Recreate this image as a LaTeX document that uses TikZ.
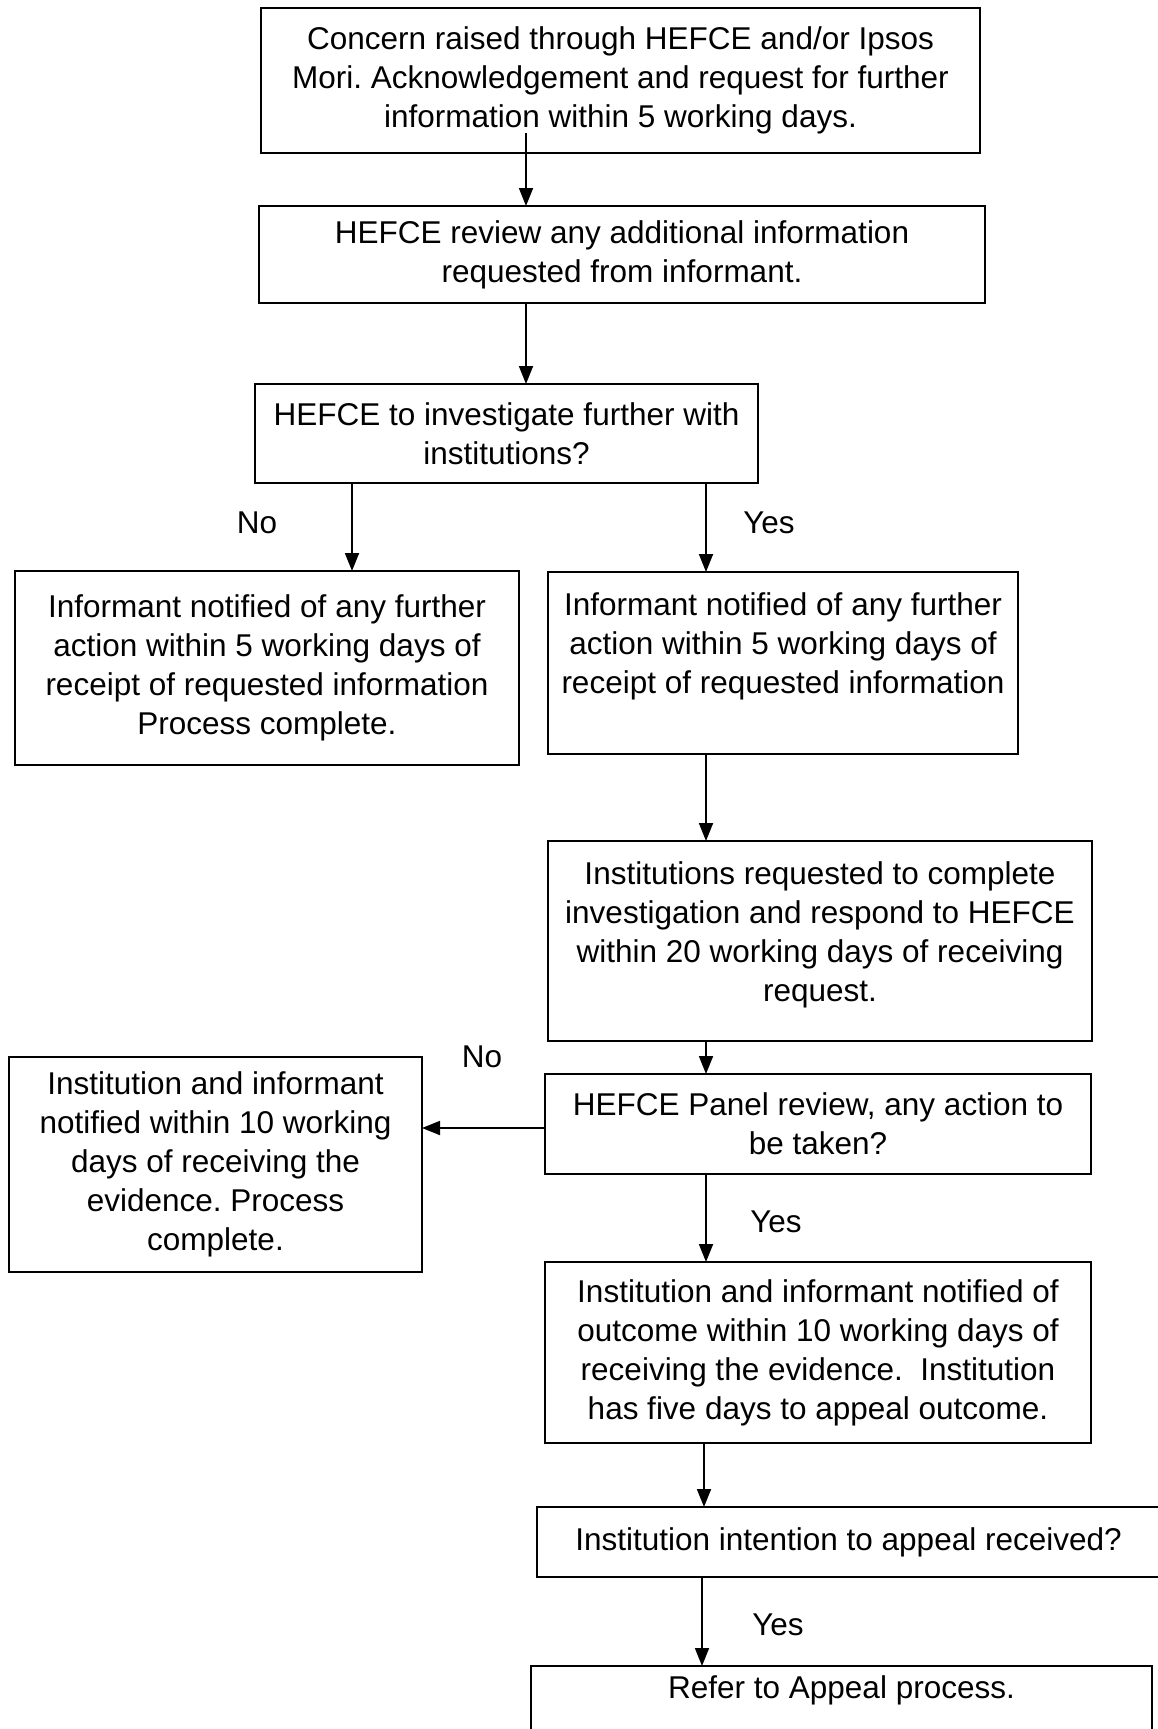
\documentclass[tikz,border=0pt]{standalone}
\usepackage{fontspec}
\setmainfont{Liberation Sans}
\usetikzlibrary{arrows.meta,calc}
\frenchspacing
\begin{document}
\begin{tikzpicture}[x=1pt,y=-1pt,
  box/.style={draw, line width=2.2pt, align=center, inner sep=0pt, outer sep=0pt,
    font=\fontsize{31.5}{39}\selectfont},
  lbl/.style={inner sep=0pt, font=\fontsize{31.5}{39}\selectfont},
  arr/.style={line width=1.8pt, -{Triangle[length=18pt,width=14pt]}}]
\useasboundingbox[fill=white] (0,0) rectangle (1157,1729);
% boxes
\node[box, minimum width=719pt, minimum height=145pt] (b1) at (620.5,80.5)
  {Concern raised through HEFCE and/or Ipsos\\Mori. Acknowledgement and request for further\\information within 5 working days.};
\node[box, minimum width=726pt, minimum height=97pt] (b2) at (622,254.5)
  {HEFCE review any additional information\\requested from informant.};
\node[box, minimum width=503pt, minimum height=99pt] (b3) at (506.5,433.5)
  {HEFCE to investigate further with\\institutions?};
\node[box, minimum width=504pt, minimum height=194pt] (b4) at (267,668)
  {Informant notified of any further\\action within 5 working days of\\receipt of requested information\\Process complete.};
\node[box, minimum width=470pt, minimum height=182pt] (b5) at (783,663)
  {Informant notified of any further\\action within 5 working days of\\receipt of requested information\\\mbox{}};
\node[box, minimum width=544pt, minimum height=200pt] (b6) at (820,941)
  {Institutions requested to complete\\investigation and respond to HEFCE\\within 20 working days of receiving\\request.\\[-20pt]\mbox{}};
\node[box, minimum width=413pt, minimum height=215pt] (b7) at (215.5,1164.5)
  {Institution and informant\\notified within 10 working\\days of receiving the\\evidence. Process\\complete.};
\node[box, minimum width=546pt, minimum height=100pt] (b8) at (818,1124)
  {HEFCE Panel review, any action to\\be taken?};
\node[box, minimum width=546pt, minimum height=181pt] (b9) at (818,1352.5)
  {Institution and informant notified of\\outcome within 10 working days of\\receiving the evidence.\ \ Institution\\has five days to appeal outcome.};
\node[box, minimum width=623pt, minimum height=70pt] (b10) at (848.5,1542)
  {Institution intention to appeal received?};
\node[box, minimum width=621pt, minimum height=94pt] (b11) at (841.5,1713)
  {Refer to Appeal process.\\[12pt]\mbox{}};
% helper coordinates
\coordinate (p1) at (526,133);
\coordinate (x526) at (526,0);
\coordinate (x352) at (352,0);
\coordinate (x706) at (706,0);
\coordinate (x704) at (704,0);
\coordinate (x702) at (702,0);
\coordinate (y1128) at (0,1128);
% connectors
\draw[arr] (p1) -- (b2.north -| p1);
\draw[arr] (b2.south -| x526) -- (b3.north -| x526);
\draw[arr] (b3.south -| x352) -- (b4.north -| x352);
\draw[arr] (b3.south -| x706) -- (b5.north -| x706);
\draw[arr] (b5.south -| x706) -- (b6.north -| x706);
\draw[arr] (b6.south -| x706) -- (b8.north -| x706);
\draw[arr] (b8.west |- y1128) -- (b7.east |- y1128);
\draw[arr] (b8.south -| x706) -- (b9.north -| x706);
\draw[arr] (b9.south -| x704) -- (b10.north -| x704);
\draw[arr] (b10.south -| x702) -- (b11.north -| x702);
% labels
\node[lbl] (l1) at (257,523) {No};
\node[lbl] (l2) at (769,523) {Yes};
\node[lbl] (l3) at (482,1057) {No};
\node[lbl] (l4) at (776,1222) {Yes};
\node[lbl] (l5) at (778,1625) {Yes};
\end{tikzpicture}
\end{document}
